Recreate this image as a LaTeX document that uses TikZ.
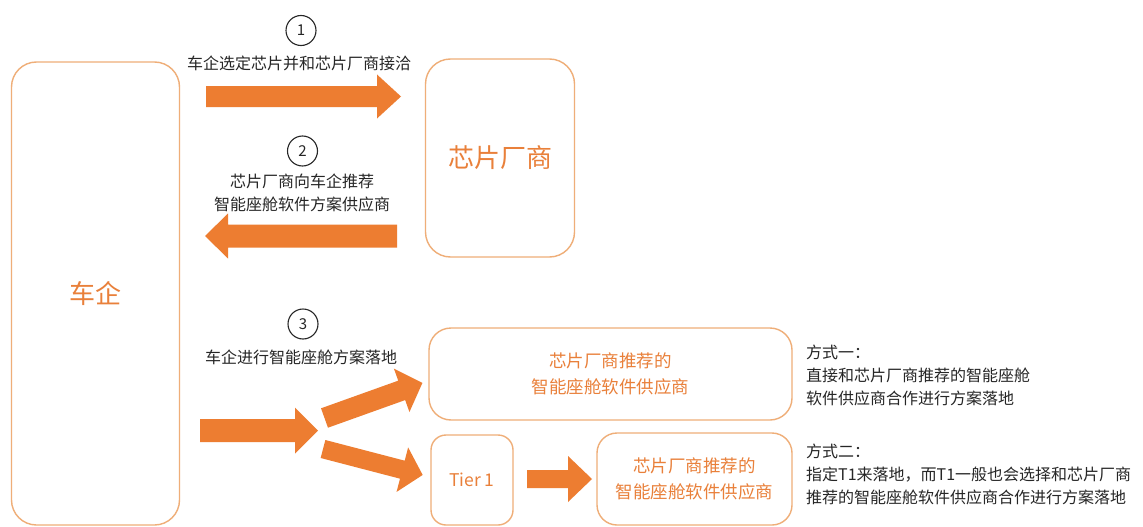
\documentclass[tikz,border=0pt]{standalone}
\usepackage{fontspec}
\setmainfont{Noto Sans CJK SC}
\definecolor{ofill}{HTML}{ED7D31}
\definecolor{oline}{HTML}{EFAE78}
\definecolor{otext}{HTML}{E9803A}
\definecolor{dtext}{HTML}{262626}
\tikzset{
  rbox/.style={draw=oline, line width=1.4pt, fill=white, inner sep=0pt, text=otext},
  numcirc/.style={circle, draw=dtext, line width=1.1pt, minimum size=30pt, inner sep=0pt, text=dtext, font=\fontsize{15}{15}\selectfont},
  blk/.style={text=dtext, align=center, inner sep=0pt, font=\fontsize{16}{22.5}\selectfont},
  side/.style={text=dtext, align=left, anchor=west, inner sep=0pt, font=\fontsize{16}{23}\selectfont},
  pics/barrow/.style n args={4}{code={
    \fill[ofill] (0,-#3) -- ({#1-#2},-#3) -- ({#1-#2},-#4) -- (#1,0) -- ({#1-#2},#4) -- ({#1-#2},#3) -- (0,#3) -- cycle;
  }}
}
\begin{document}
\begin{tikzpicture}[x=1pt,y=-1pt]
\useasboundingbox[fill=white] (0,0) rectangle (1143,527);

% boxes
\node[rbox, rounded corners=25pt, minimum width=168pt, minimum height=463pt, font=\fontsize{26}{26}\selectfont] (car) at (95.5,293.5) {车企};
\node[rbox, rounded corners=25pt, minimum width=149pt, minimum height=198pt, font=\fontsize{26}{26}\selectfont] (chip) at (500,158) {芯片厂商};
\node[rbox, rounded corners=22pt, minimum width=363pt, minimum height=92pt, align=center, font=\fontsize{17.5}{26}\selectfont] (sup1) at (610.5,374) {芯片厂商推荐的\\智能座舱软件供应商};
\node[rbox, rounded corners=15pt, minimum width=82pt, minimum height=90pt, font=\fontsize{17.5}{20}\selectfont] (tier) at (472,480) {Tier 1};
\node[rbox, rounded corners=20pt, minimum width=195pt, minimum height=92pt, align=center, font=\fontsize{17.5}{26}\selectfont] (sup2) at (694.5,479) {芯片厂商推荐的\\智能座舱软件供应商};

% step circles and labels
\node[numcirc] (n1) at (301,30.5) {1};
\node[blk] (t1) at (299,63) {车企选定芯片并和芯片厂商接洽};
\node[numcirc] (n2) at (302.5,151) {2};
\node[blk] (t2) at (302,193) {芯片厂商向车企推荐\\智能座舱软件方案供应商};
\node[numcirc] (n3) at (303,324) {3};
\node[blk] (t3) at (301,357) {车企进行智能座舱方案落地};

% side notes
\node[side] (s1) at (806,375) {方式一：\\直接和芯片厂商推荐的智能座舱\\软件供应商合作进行方案落地};
\node[side] (s2) at (806,474) {方式二：\\指定T1来落地，而T1一般也会选择和芯片厂商\\推荐的智能座舱软件供应商合作进行方案落地};

% arrow anchors
\coordinate (a1) at (206,96.5);
\coordinate (a2) at (397,236);
\coordinate (a3) at (200,430.5);
\coordinate (a4) at (324.5,418);
\coordinate (a5) at (323,449);
\coordinate (a6) at (527,479);

\pic at (a1) {barrow={195}{24}{10.5}{22}};
\pic[rotate=180] at (a2) {barrow={192}{23}{11.5}{22.5}};
\pic at (a3) {barrow={118}{23}{11.5}{23}};
\pic[rotate=19.7] at (a4) {barrow={104}{22}{10.3}{23}};
\pic[rotate=-14.6] at (a5) {barrow={103}{21}{9.3}{23}};
\pic at (a6) {barrow={65}{24}{9}{23}};
\end{tikzpicture}
\end{document}
